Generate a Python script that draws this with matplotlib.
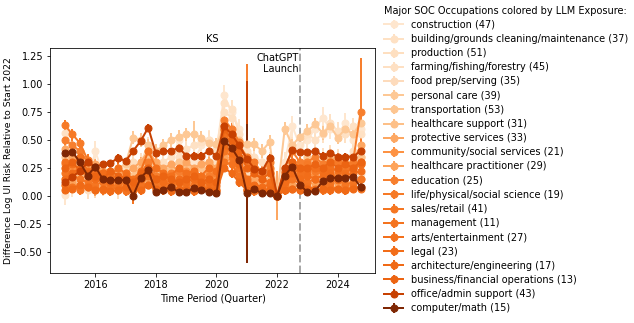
import numpy as np
import matplotlib.pyplot as plt

# ========= DATA =========
quarters = np.arange(2015.0, 2025.0, 0.25)   # 2015Q1 .. 2024Q4 (40 quarters)

occupations = [
    "construction (47)",
    "building/grounds cleaning/maintenance (37)",
    "production (51)",
    "farming/fishing/forestry (45)",
    "food prep/serving (35)",
    "personal care (39)",
    "transportation (53)",
    "healthcare support (31)",
    "protective services (33)",
    "community/social services (21)",
    "healthcare practitioner (29)",
    "education (25)",
    "life/physical/social science (19)",
    "sales/retail (41)",
    "management (11)",
    "arts/entertainment (27)",
    "legal (23)",
    "architecture/engineering (17)",
    "business/financial operations (13)",
    "office/admin support (43)",
    "computer/math (15)",
]

occ_colors = [
    "#fee6ce", "#fee1c4", "#fedfc0", "#fee0c3", "#fddbbc", "#fdc895", "#fdc590",
    "#fdc088", "#fda762", "#fd9243", "#fda35a", "#f77f2e", "#f67a27", "#f57622",
    "#f4731f", "#f3701c", "#f26d19", "#f06a16", "#ec6412", "#c74102", "#7f2704",
]

values = [
    [0.01,0.08,0.12,0.10,0.40,0.20,0.15,0.12,0.18,0.10,0.20,0.30,0.15,0.20,0.25,0.50,0.35,0.30,0.45,0.50,
     0.40,0.90,0.75,0.60,0.30,0.25,0.20,0.30,0.00,0.30,0.62,0.45,0.50,0.60,0.70,0.60,0.55,0.65,0.50,0.60],
    [0.56,0.45,0.35,0.25,0.20,0.18,0.22,0.20,0.15,0.20,0.30,0.45,0.25,0.30,0.35,0.40,0.42,0.45,0.48,0.50,
     0.42,0.83,0.78,0.55,0.40,0.35,0.30,0.28,0.00,0.20,0.45,0.40,0.55,0.50,0.55,0.65,0.58,0.55,0.62,0.55],
    [0.30,0.25,0.22,0.28,0.20,0.15,0.18,0.20,0.25,0.30,0.22,0.28,0.20,0.22,0.25,0.18,0.30,0.25,0.28,0.22,
     0.30,0.75,0.70,0.40,0.20,0.25,0.22,0.18,0.00,0.25,0.30,0.28,0.35,0.30,0.32,0.38,0.35,0.30,0.40,0.35],
    [0.20,0.15,0.10,0.05,0.12,0.08,0.10,0.05,0.12,0.25,0.18,0.30,0.10,0.15,0.20,0.35,0.25,0.20,0.30,0.25,
     0.20,0.55,0.50,0.35,0.15,0.10,0.12,0.08,0.00,0.15,0.25,0.20,0.30,0.25,0.35,0.30,0.28,0.25,0.30,0.35],
    [0.05,0.10,0.08,0.12,0.05,0.08,0.10,0.12,0.08,0.05,0.15,0.20,0.12,0.10,0.15,0.20,0.18,0.12,0.15,0.10,
     0.12,0.65,0.55,0.40,0.20,0.15,0.10,0.12,0.00,0.10,0.20,0.15,0.18,0.22,0.20,0.25,0.22,0.18,0.25,0.20],
    [0.25,0.22,0.20,0.15,0.18,0.20,0.22,0.25,0.28,0.52,0.50,0.45,0.40,0.45,0.50,0.53,0.55,0.55,0.52,0.47,
     0.46,0.60,0.55,0.50,0.46,0.46,0.40,0.48,0.00,0.60,0.45,0.53,0.58,0.64,0.56,0.62,0.52,0.60,0.55,0.65],
    [0.35,0.30,0.25,0.20,0.22,0.18,0.15,0.20,0.15,0.18,0.25,0.35,0.20,0.18,0.25,0.30,0.28,0.22,0.25,0.30,
     0.25,0.55,0.45,0.30,0.15,0.12,0.10,0.15,0.00,0.20,0.30,0.25,0.35,0.30,0.28,0.35,0.32,0.30,0.28,0.35],
    [0.15,0.12,0.18,0.22,0.25,0.20,0.15,0.18,0.20,0.15,0.12,0.20,0.18,0.22,0.20,0.15,0.25,0.20,0.18,0.22,
     0.20,0.50,0.40,0.25,0.10,0.12,0.08,0.10,0.00,0.15,0.22,0.18,0.25,0.20,0.30,0.25,0.22,0.28,0.25,0.30],
    [0.42,0.35,0.30,0.25,0.28,0.22,0.18,0.22,0.20,0.25,0.30,0.40,0.30,0.25,0.28,0.22,0.30,0.25,0.28,0.30,
     0.25,0.58,0.50,0.30,0.10,0.15,0.12,0.10,0.00,0.18,0.28,0.22,0.30,0.25,0.28,0.32,0.30,0.28,0.30,0.45],
    [0.28,0.25,0.22,0.18,0.15,0.12,0.10,0.15,0.12,0.08,0.18,0.25,0.15,0.12,0.18,0.20,0.22,0.18,0.15,0.20,
     0.18,0.45,0.40,0.25,0.05,0.08,0.05,0.06,0.00,0.10,0.18,0.15,0.20,0.18,0.22,0.20,0.18,0.25,0.22,0.28],
    [0.10,0.12,0.08,0.10,0.05,0.08,0.06,0.10,0.05,0.06,0.10,0.15,0.08,0.10,0.12,0.08,0.10,0.12,0.08,0.10,
     0.08,0.35,0.30,0.20,0.06,0.05,0.04,0.06,0.00,0.06,0.10,0.08,0.12,0.10,0.08,0.12,0.10,0.12,0.08,0.15],
    [0.50,0.45,0.40,0.30,0.25,0.20,0.18,0.15,0.12,0.10,0.20,0.30,0.18,0.15,0.20,0.22,0.18,0.20,0.15,0.18,
     0.20,0.68,0.60,0.48,0.30,0.25,0.22,0.30,0.00,0.25,0.40,0.30,0.30,0.35,0.28,0.30,0.32,0.28,0.30,0.75],
    [0.63,0.55,0.47,0.32,0.25,0.20,0.15,0.12,0.10,0.08,0.15,0.25,0.12,0.10,0.15,0.12,0.18,0.15,0.12,0.15,
     0.12,0.62,0.55,0.45,0.35,0.30,0.20,0.25,0.00,0.20,0.30,0.25,0.28,0.22,0.25,0.28,0.30,0.25,0.28,0.30],
    [0.20,0.18,0.15,0.12,0.10,0.12,0.08,0.10,0.06,0.05,0.10,0.18,0.08,0.06,0.10,0.12,0.08,0.10,0.06,0.08,
     0.05,0.40,0.35,0.25,0.10,0.08,0.06,0.05,0.00,0.08,0.15,0.10,0.12,0.15,0.10,0.12,0.14,0.10,0.12,0.15],
    [0.10,0.08,0.05,0.08,0.06,0.05,0.08,0.06,0.04,0.05,0.08,0.10,0.05,0.06,0.08,0.05,0.06,0.05,0.08,0.06,
     0.05,0.30,0.28,0.18,0.05,0.04,0.03,0.04,0.00,0.05,0.06,0.05,0.08,0.06,0.05,0.08,0.06,0.05,0.08,0.06],
    [0.30,0.28,0.35,0.22,0.20,0.15,0.18,0.25,0.20,0.15,0.22,0.40,0.25,0.20,0.18,0.25,0.20,0.22,0.18,0.25,
     0.22,0.55,0.48,0.35,0.15,0.20,0.15,0.12,0.00,0.15,0.25,0.20,0.22,0.25,0.20,0.25,0.22,0.20,0.25,0.28],
    [0.15,0.20,0.25,0.18,0.15,0.20,0.12,0.15,0.18,0.12,0.15,0.20,0.15,0.12,0.10,0.15,0.12,0.15,0.10,0.12,
     0.10,0.45,0.38,0.28,0.12,0.10,0.08,0.10,0.00,0.12,0.20,0.15,0.18,0.15,0.18,0.20,0.15,0.18,0.20,0.22],
    [0.05,0.06,0.10,0.08,0.05,0.06,0.04,0.05,0.08,0.06,0.05,0.10,0.06,0.05,0.04,0.06,0.05,0.04,0.06,0.05,
     0.04,0.25,0.20,0.12,0.05,0.06,0.04,0.05,0.00,0.05,0.06,0.05,0.06,0.05,0.06,0.05,0.06,0.05,0.06,0.08],
    [0.25,0.30,0.22,0.20,0.18,0.15,0.22,0.18,0.15,0.12,0.20,0.25,0.15,0.18,0.15,0.12,0.15,0.18,0.12,0.15,
     0.12,0.60,0.50,0.40,0.25,0.20,0.15,0.20,0.00,0.22,0.30,0.25,0.25,0.28,0.25,0.30,0.25,0.28,0.25,0.30],
    [0.12,0.17,0.22,0.30,0.26,0.28,0.29,0.34,0.31,0.40,0.49,0.61,0.38,0.40,0.40,0.43,0.36,0.36,0.36,0.40,
     0.36,0.62,0.55,0.45,0.33,0.24,0.22,0.34,0.00,0.25,0.41,0.39,0.39,0.40,0.36,0.38,0.35,0.35,0.35,0.40],
    [0.38,0.39,0.30,0.18,0.26,0.15,0.14,0.14,0.14,0.00,0.16,0.23,0.03,0.05,0.08,0.03,0.03,0.07,0.05,0.03,
     0.02,0.49,0.43,0.32,0.02,0.06,0.02,0.02,0.00,0.18,0.26,0.10,0.03,0.04,0.13,0.16,0.16,0.16,0.17,0.08],
]

# typical standard error per occupation, plus the few very wide ones
typical_err = [0.09, 0.08, 0.07, 0.08, 0.07, 0.06, 0.06, 0.06, 0.05, 0.05, 0.05,
               0.05, 0.05, 0.04, 0.04, 0.05, 0.05, 0.04, 0.04, 0.03, 0.03]
wide_err = {(11, 24): 0.88, (19, 24): 0.70, (20, 24): 0.62, (8, 28): 0.22, (11, 39): 0.48,
            (12, 11): 0.10, (13, 9): 0.12, (5, 17): 0.12}

chatgpt_launch = 2022.75

# ========= PLOT =========
fig = plt.figure(figsize=(634 / 72, 323 / 72), dpi=72)
ax = fig.add_axes([0.079, 0.155, 0.513, 0.696])

for i, (name, ys, color) in enumerate(zip(occupations, values, occ_colors)):
    err = [wide_err.get((i, k), typical_err[i]) for k in range(len(ys))]
    ax.errorbar(quarters, ys, yerr=err, color=color, marker="o", markersize=7,
                linewidth=2, elinewidth=2, label=name)

ax.axvline(chatgpt_launch, color="#999999", linestyle="--", linewidth=2, alpha=0.85)
ax.text(chatgpt_launch - 0.05, 1.28, "ChatGPT\nLaunch", ha="right", va="top", fontsize=9.7)

ax.set_title("KS", fontsize=9.7)
ax.set_xlabel("Time Period (Quarter)", fontsize=9.7)
ax.set_ylabel("Difference Log UI Risk Relative to Start 2022", fontsize=9.2, labelpad=0)
ax.set_xticks([2016, 2018, 2020, 2022, 2024])
ax.set_yticks([-0.5, -0.25, 0, 0.25, 0.5, 0.75, 1.0, 1.25])
ax.tick_params(labelsize=9.8)

ax.legend(title="Major SOC Occupations colored by LLM Exposure:", loc="upper left",
          bbox_to_anchor=(1.0, 1.228), frameon=False, fontsize=9.7, title_fontsize=9.7,
          labelspacing=0.43, handlelength=2, alignment="left")

plt.savefig("out.png", dpi=72)
